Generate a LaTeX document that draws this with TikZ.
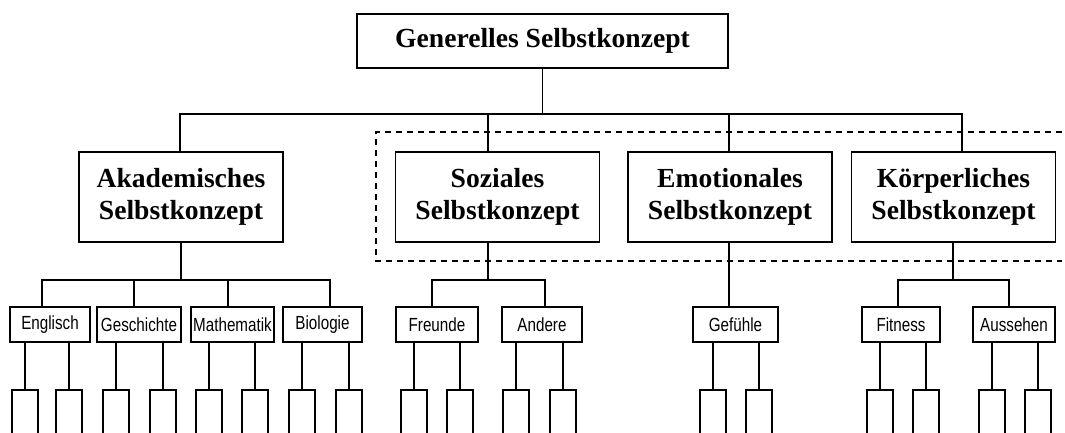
\documentclass[tikz,border=0pt]{standalone}
\usepackage{fontspec}
\setmainfont{Liberation Serif}
\newfontfamily\labelfont[FakeStretch=0.8]{Liberation Sans}

\begin{document}
\begin{tikzpicture}[x=0.5pt, y=-0.5pt, line width=0.75pt,
  genbox/.style={draw, inner sep=0pt, minimum width=185.5pt, minimum height=27pt,
    font=\fontsize{13.8}{16}\selectfont\bfseries},
  selfbox/.style={draw, inner sep=0pt, minimum width=102pt, minimum height=45pt, align=center,
    font=\fontsize{13.8}{16}\selectfont\bfseries},
  subjbox/.style={draw, inner sep=0pt, minimum height=17.5pt,
    font=\labelfont\fontsize{9.5}{11}\selectfont},
  leafbox/.style={draw, inner sep=0pt, minimum width=13pt, minimum height=25pt, anchor=north},
  groupline/.style={dash pattern=on 3pt off 2.5pt}]
\useasboundingbox (0,0) rectangle (1065,433);
\clip (0,0) rectangle (1065,433);

\node [genbox] (gen) at (542.5, 41) {Generelles Selbstkonzept};

\node [selfbox] (akad) at (181, 197) {Akademisches\\Selbstkonzept};
\node [selfbox] (soz) at (497.5, 197) {Soziales\\Selbstkonzept};
\node [selfbox] (emo) at (730, 197) {Emotionales\\Selbstkonzept};
\node [selfbox] (koerp) at (953.5, 197) {Körperliches\\Selbstkonzept};

% the three non-academic parts
\draw [groupline] (1062, 132) -- (376, 132) -- (376, 261) -- (1062, 261);

\node [subjbox, minimum width=40pt] (engl) at (50, 324.5) {Englisch};
\node [subjbox, minimum width=42pt] (gesch) at (139, 324.5) {Geschichte};
\node [subjbox, minimum width=41.5pt] (mathe) at (232.5, 324.5) {Mathematik};
\node [subjbox, minimum width=39.5pt] (bio) at (322.5, 324.5) {Biologie};
\node [subjbox, minimum width=41pt] (freu) at (437, 324.5) {Freunde};
\node [subjbox, minimum width=40pt] (andr) at (542, 324.5) {Andere};
\node [subjbox, minimum width=42.5pt] (gef) at (735.5, 324.5) {Gefühle};
\node [subjbox, minimum width=39pt] (fit) at (901, 324.5) {Fitness};
\node [subjbox, minimum width=41pt] (aus) at (1014, 324.5) {Aussehen};

% top level
\coordinate (topbus) at (543, 114);
\draw (gen.south) -- (gen.south |- topbus);
\draw (akad.north -| 180,0) |- (topbus) -| (koerp.north -| 962,0);
\draw (soz.north -| 488,0) -- (488, 114);
\draw (emo.north -| 729,0) -- (729, 114);

% second level
\coordinate (akbus) at (181, 280);
\draw (akad.south) -- (akbus);
\draw (engl.north -| 42,0) |- (akbus) -| (bio.north -| 330,0);
\draw (gesch.north -| 134,0) -- (134, 280);
\draw (mathe.north -| 228,0) -- (228, 280);

\coordinate (sobus) at (488, 280);
\draw (soz.south -| 488,0) -- (sobus);
\draw (freu.north -| 432,0) |- (sobus) -| (andr.north -| 545,0);

\draw (emo.south -| 729,0) -- (gef.north -| 729,0);

\coordinate (kobus) at (953, 280);
\draw (koerp.south -| 953,0) -- (kobus);
\draw (fit.north -| 898,0) |- (kobus) -| (aus.north -| 1009,0);

% leaves
\node [leafbox] (l1) at (25, 389) {};
\node [leafbox] (l2) at (69, 389) {};
\node [leafbox] (l3) at (116, 389) {};
\node [leafbox] (l4) at (163, 389) {};
\node [leafbox] (l5) at (209, 389) {};
\node [leafbox] (l6) at (255, 389) {};
\node [leafbox] (l7) at (302, 389) {};
\node [leafbox] (l8) at (349, 389) {};
\node [leafbox] (l9) at (414, 389) {};
\node [leafbox] (l10) at (460, 389) {};
\node [leafbox] (l11) at (516, 389) {};
\node [leafbox] (l12) at (563, 389) {};
\node [leafbox] (l13) at (713, 389) {};
\node [leafbox] (l14) at (759, 389) {};
\node [leafbox] (l15) at (880, 389) {};
\node [leafbox] (l16) at (926, 389) {};
\node [leafbox] (l17) at (992, 389) {};
\node [leafbox] (l18) at (1038, 389) {};

\draw (engl.south -| l1) -- (l1);
\draw (engl.south -| l2) -- (l2);
\draw (gesch.south -| l3) -- (l3);
\draw (gesch.south -| l4) -- (l4);
\draw (mathe.south -| l5) -- (l5);
\draw (mathe.south -| l6) -- (l6);
\draw (bio.south -| l7) -- (l7);
\draw (bio.south -| l8) -- (l8);
\draw (freu.south -| l9) -- (l9);
\draw (freu.south -| l10) -- (l10);
\draw (andr.south -| l11) -- (l11);
\draw (andr.south -| l12) -- (l12);
\draw (gef.south -| l13) -- (l13);
\draw (gef.south -| l14) -- (l14);
\draw (fit.south -| l15) -- (l15);
\draw (fit.south -| l16) -- (l16);
\draw (aus.south -| l17) -- (l17);
\draw (aus.south -| l18) -- (l18);
\end{tikzpicture}
\end{document}
